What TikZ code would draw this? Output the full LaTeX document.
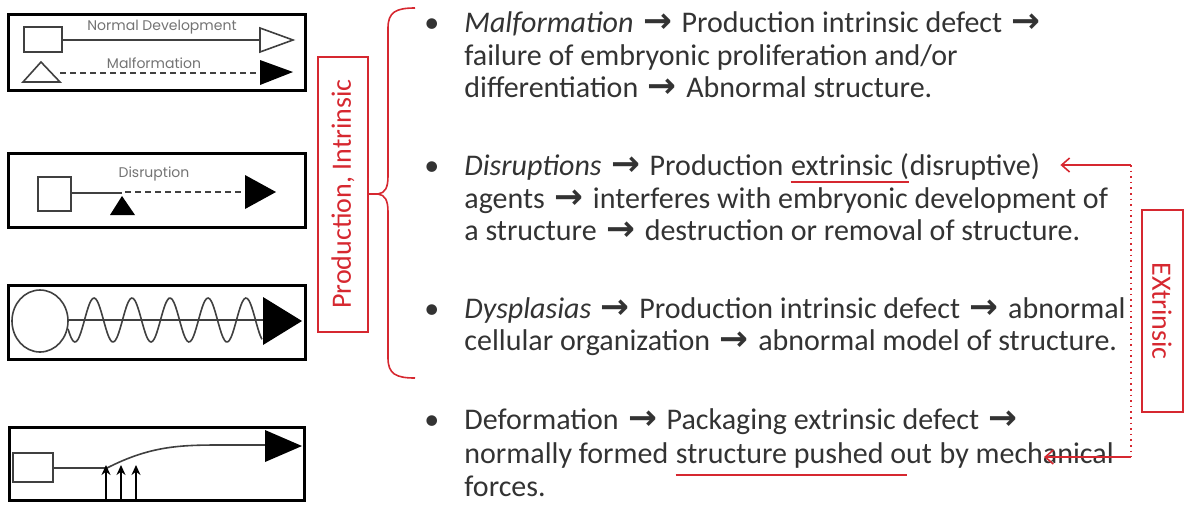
\documentclass[tikz,border=0pt]{standalone}
\usepackage{fontspec}
\setmainfont{Carlito}
\newfontfamily\symfont{DejaVu Sans}
\newfontfamily\geofont{Poppins}
\usetikzlibrary{calc,arrows.meta}
\definecolor{markred}{RGB}{214,40,48}
\newcommand\rarr{\makebox[1.15em]{\symfont\bfseries\scalebox{1.15}{→}}}

\begin{document}
\begin{tikzpicture}[x=0.5pt, y=-0.5pt,
  line/.style={anchor=base west, inner sep=0pt, font=\fontsize{15}{18}\selectfont, text=black!80},
  cont/.style={line, xshift=3.4pt},
  frame/.style={draw, line width=1.5pt, inner sep=0pt},
  ink/.style={draw=black!75, line width=0.8pt},
  tiny/.style={inner sep=0pt, font=\geofont\fontsize{7}{8}\selectfont, text=black!55},
  redbox/.style={draw=markred, line width=1pt, text=markred, font=\fontsize{14}{16}\selectfont, inner sep=0pt},
  redline/.style={draw=markred, line width=0.8pt},
  >={Straight Barb[length=4pt,width=7pt]}]

\useasboundingbox (0,0) rectangle (1188,505);

\node[frame, minimum width=148.5pt, minimum height=38pt] (fr1) at (156.5,52) {};
\node[frame, minimum width=148.5pt, minimum height=37pt] (fr2) at (156.5,190) {};
\node[frame, minimum width=148.5pt, minimum height=37pt] (fr3) at (156.5,322) {};
\node[frame, minimum width=147.5pt, minimum height=36.5pt] (fr4) at (156.5,463.5) {};

\draw[ink] (24,27) rectangle (62,52);
\draw[ink] (62,40) -- (260,40);
\draw[ink] (260,28) -- (293,40) -- (260,52) -- cycle;
\node[tiny] (normal) at (162,27) {Normal Development};
\draw[ink] (23,82) -- (41,62) -- (60,82) -- cycle;
\draw[ink, dash pattern=on 3pt off 2pt] (60,73) -- (260,73);
\fill[black] (260,60) -- (293,72) -- (260,85) -- cycle;
\node[tiny] (malf) at (154,63) {Malformation};

\draw[ink] (38,177) rectangle (71,211);
\draw[ink] (71,193) -- (122,193);
\fill[black] (110,215) -- (122,196) -- (135,215) -- cycle;
\draw[ink, dash pattern=on 3pt off 2pt] (125,192) -- (245,192);
\fill[black] (245,175) -- (276,192) -- (245,209) -- cycle;
\node[tiny] (disr) at (154,174) {Disruption};

\draw[ink] (40,321) ellipse [x radius=14pt, y radius=15.5pt];
\draw[ink] (68,320) -- (265,320);
\draw[ink] plot[domain=68:262, samples=120, smooth] (\x, {320+22*cos(9.4737*(\x-75))});
\fill[black] (263,297) -- (302,321) -- (263,345) -- cycle;

\draw[ink] (13,453) rectangle (53,482);
\draw[ink] (53,468) -- (107,468) .. controls (150,446) and (180,445) .. (220,445) -- (265,445);
\fill[black] (265,430) -- (302,446) -- (265,462) -- cycle;
\foreach \p in {106,121,136}
  \draw[line width=0.9pt, -{Stealth[length=5pt,width=4.5pt]}] (\p,499) -- (\p,465);

\node[redbox, rotate=90, minimum width=137.5pt, minimum height=25pt] (pint) at (343,194) {Production, Intrinsic};
\coordinate (tip) at (378,194);
\draw[redline] (pint.south) -- (tip);
\draw[redline] (415,8) .. controls (396,8) and (388,12) .. (388,28) -- (388,176)
  .. controls (388,188) and (385,193) .. (tip)
  .. controls (385,195) and (388,200) .. (388,212) -- (388,358)
  .. controls (388,374) and (396,378) .. (415,378);

\node[line] (dot1) at (424,32) {•};
\node[line] (m1) at (464,32) {\textit{Malformation} \rarr{} Production intrinsic defect \rarr};
\node[line] (m2) at (464,65) {failure of embryonic proliferation and/or};
\node[line] (m3) at (464,97) {differentiation \rarr{} Abnormal structure.};

\node[line] (dot2) at (424,175) {•};
\node[line] (d1a) at (464,175) {\textit{Disruptions} \rarr{} Production};
\node[cont] (d1u) at (d1a.base east) {extrinsic (};
\node[line] (d1b) at (d1u.base east) {disruptive)};
\node[line] (d2) at (464,208) {agents \rarr{} interferes with embryonic development of};
\node[line] (d3) at (464,240) {a structure \rarr{} destruction or removal of structure.};

\node[line] (dot3) at (424,318) {•};
\node[line] (y1) at (464,318) {\textit{Dysplasias} \rarr{} Production intrinsic defect \rarr{} abnormal};
\node[line] (y2) at (464,350) {cellular organization \rarr{} abnormal model of structure.};

\node[line] (dot4) at (424,429) {•};
\node[line] (f1) at (464,429) {Deformation \rarr{} Packaging extrinsic defect \rarr};
\node[line] (f2a) at (464,463) {normally formed};
\node[cont] (f2u) at (f2a.base east) {structure pushed out};
\node[cont] (f2b) at (f2u.base east) {by mechanical};
\node[line] (f3) at (464,496) {forces.};

\draw[redline] ($(d1u.base west)+(0,7)$) -- ($(d1u.base east)+(0,7)$);
\draw[redline] ($(f2u.base west)+(0,12)$) -- ($(f2u.base east)+(-25,12)$);

\node[redbox, rotate=-90, minimum width=101pt, minimum height=20.5pt] (extr) at (1162,311) {EXtrinsic};
\coordinate (ctop) at (1131,165);
\coordinate (cbot) at (1131,457);
\coordinate (d1end) at ($(d1b.east)+(20,0)$);
\coordinate (mechend) at ($(f2b.east)+(-70,0)$);
\draw[redline, dotted] (ctop) -- (cbot);
\draw[redline, ->] (ctop) -- (d1end |- ctop);
\draw[redline, ->] (cbot) -- (mechend |- cbot);

\end{tikzpicture}
\end{document}
